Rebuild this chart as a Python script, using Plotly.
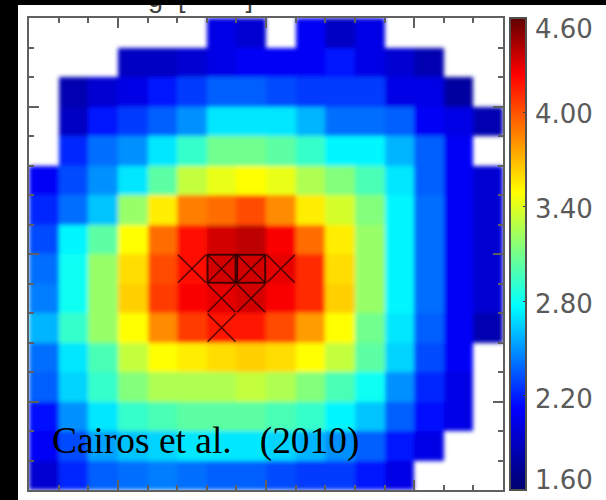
import plotly.graph_objects as go

N = None
row_00 = [N, N, N, N, N, N, 2.03, 1.96, N, 2.09, 1.90, 2.03, N, N, N, N]
row_01 = [N, N, N, 1.90, 1.90, 1.96, 2.03, 2.09, 2.09, 2.09, 2.18, 2.03, 1.96, 1.84, N, N]
row_02 = [N, 1.84, 1.96, 2.03, 2.18, 2.27, 2.36, 2.36, 2.31, 2.27, 2.27, 2.27, 2.03, 2.03, 1.78, N]
row_03 = [N, 1.90, 2.18, 2.27, 2.36, 2.49, 2.71, 2.71, 2.71, 2.58, 2.40, 2.40, 2.36, 2.09, 2.03, 1.84]
row_04 = [N, 2.22, 2.40, 2.49, 2.71, 2.92, 3.09, 3.09, 3.03, 2.92, 2.75, 2.75, 2.58, 2.36, 2.09, N]
row_05 = [2.09, 2.31, 2.49, 2.71, 3.03, 3.32, 3.43, 3.49, 3.43, 3.26, 3.14, 2.98, 2.71, 2.36, 2.09, 1.96]
row_06 = [2.22, 2.40, 2.62, 3.20, 3.54, 3.87, 3.92, 4.02, 3.83, 3.54, 3.37, 3.14, 2.75, 2.40, 2.09, 1.96]
row_07 = [2.31, 2.75, 3.03, 3.49, 3.92, 4.21, 4.34, 4.39, 4.25, 3.92, 3.54, 3.20, 2.75, 2.40, 2.09, 1.96]
row_08 = [2.40, 2.80, 3.20, 3.59, 4.02, 4.21, 4.34, 4.34, 4.30, 4.12, 3.59, 3.20, 2.75, 2.40, 2.09, 1.96]
row_09 = [2.44, 2.80, 3.20, 3.63, 4.07, 4.25, 4.30, 4.34, 4.25, 4.12, 3.63, 3.20, 2.75, 2.40, 2.09, 1.96]
row_10 = [2.58, 2.92, 3.20, 3.49, 3.83, 4.07, 4.17, 4.17, 4.02, 3.78, 3.49, 3.09, 2.71, 2.36, 2.09, 1.84]
row_11 = [2.40, 2.71, 2.98, 3.32, 3.49, 3.54, 3.59, 3.63, 3.59, 3.49, 3.32, 3.03, 2.66, 2.31, 2.09, N]
row_12 = [2.36, 2.66, 2.92, 3.14, 3.26, 3.26, 3.26, 3.32, 3.26, 3.14, 2.98, 2.80, 2.49, 2.22, 2.03, N]
row_13 = [2.14, 2.49, 2.71, 2.92, 2.98, 3.03, 3.03, 3.03, 2.98, 2.92, 2.75, 2.62, 2.36, 2.14, 2.03, N]
row_14 = [2.09, 2.31, 2.53, 2.62, 2.66, 2.71, 2.71, 2.71, 2.66, 2.58, 2.49, 2.36, 2.18, 2.03, N, N]
row_15 = [1.96, 2.22, 2.36, 2.40, 2.44, 2.40, 2.36, 2.36, 2.31, 2.27, 2.27, 2.18, 2.03, N, N, N]
rows = [row_00, row_01, row_02, row_03, row_04, row_05, row_06, row_07,
        row_08, row_09, row_10, row_11, row_12, row_13, row_14, row_15]

cell_centres = [i + 0.5 for i in range(16)]
cross_x = [5.5, 6.5, 7.5, 8.5, 6.5, 7.5, 6.5]
cross_y = [8.5, 8.5, 8.5, 8.5, 9.5, 9.5, 10.5]
square_x = [6.5, 7.5]
square_y = [8.5, 8.5]
major_ticks = [3, 8, 13]
cbar_ticks = [1.6, 2.2, 2.8, 3.4, 4.0, 4.6]
cbar_labels = ["1.60", "2.20", "2.80", "3.40", "4.00", "4.60"]
cbar_label_shift = [10, -3, -3, -2, -2, -11]
y_fragment_labels = ["5", "0", "5"]

scale = [[0, "#00006e"], [0.173, "#0000ff"], [0.39, "#00ffff"], [0.63, "#ffff00"],
         [0.88, "#ff0000"], [1, "#600000"]]
AXC = "#606060"
MARK = "#200000"

fig = go.Figure()
fig.add_trace(go.Heatmap(
    x=cell_centres, y=cell_centres, z=rows, zmin=1.6, zmax=4.6, colorscale=scale,
    hoverongaps=False,
    colorbar=dict(x=1.0148, xanchor="left", xpad=0, ypad=0, y=0.5, len=1, lenmode="fraction",
                  thickness=16, thicknessmode="pixels", outlinecolor="#505050", outlinewidth=2,
                  tickmode="array", tickvals=cbar_ticks, ticks="inside", ticklen=4,
                  tickcolor="#404040", showticklabels=False),
))
fig.add_trace(go.Scatter(x=cross_x, y=cross_y, mode="markers", showlegend=False,
                         marker=dict(symbol="x-thin-open", size=28, opacity=0.75, color=MARK,
                                     line=dict(color=MARK, width=1.6))))
fig.add_trace(go.Scatter(x=square_x, y=square_y, mode="markers", showlegend=False,
                         marker=dict(symbol="square-open", size=28, opacity=0.8, color=MARK,
                                     line=dict(color=MARK, width=2))))

axis = dict(showgrid=False, zeroline=False, showline=True, linecolor=AXC, linewidth=2,
            mirror="ticks", ticks="inside", ticklen=10, tickwidth=1.5, tickcolor=AXC,
            tickmode="array", tickvals=major_ticks, showticklabels=False,
            minor=dict(dtick=1, ticks="inside", ticklen=5, tickwidth=1.5, tickcolor=AXC, showgrid=False))
fig.update_xaxes(range=[0, 16], **axis)
fig.update_yaxes(range=[16, 0], **axis)

ann = [dict(text="Cairos et al.\u00a0\u00a0\u00a0(2010)", xref="x", yref="y", x=0.72, y=14.33,
            xanchor="left", yanchor="middle", showarrow=False,
            font=dict(family="Liberation Serif", size=37.4, color="#000000"))]
for v, t, s in zip(cbar_ticks, cbar_labels, cbar_label_shift):
    ann.append(dict(text=t, xref="paper", yref="paper", x=1.0148, y=(v - 1.6) / 3, xshift=23, yshift=s,
                    xanchor="left", yanchor="middle", showarrow=False,
                    font=dict(family="DejaVu Sans", size=26, color="#5a5a5a")))
for m, t in zip(major_ticks, y_fragment_labels):
    ann.append(dict(text=t, xref="paper", yref="y", x=0, y=m, xshift=-9, xanchor="right",
                    yanchor="middle", showarrow=False,
                    font=dict(family="DejaVu Sans", size=25, color="#505050")))
ann.append(dict(text="g\u00a0\u00a0[\u00a0\u00a0\u00a0\u00a0\u00a0\u00a0\u00a0\u00a0]", xref="paper", yref="paper",
                x=0.247, y=1, yshift=3, xanchor="left", yanchor="bottom", showarrow=False,
                font=dict(family="Liberation Sans", size=27, color="#404040")))

cbar_left_ticks = [dict(type="line", xref="paper", yref="paper", x0=1.0148, x1=1.0148 + 4 / 474,
                        y0=(v - 1.6) / 3, y1=(v - 1.6) / 3, line=dict(color="#404040", width=1.5))
                   for v in cbar_ticks[1:-1]]

fig.update_layout(width=588, height=495, margin=dict(l=11, r=103, t=13, b=10, autoexpand=False),
                  paper_bgcolor="#ffffff", plot_bgcolor="#ffffff", showlegend=False,
                  annotations=ann, shapes=cbar_left_ticks)

post = """
document.body.style.margin='0';
document.documentElement.style.background='#000';
document.body.style.background='#000';
var g=document.getElementsByClassName('plotly-graph-div')[0];
g.style.position='absolute';g.style.left='18px';g.style.top='5px';
function soften(){
  var svg=g.querySelector('svg.main-svg');
  if(!svg) return;
  var NS='http://www.w3.org/2000/svg';
  if(!document.getElementById('cellblur')){
    var f=document.createElementNS(NS,'filter');
    f.setAttribute('id','cellblur');
    f.setAttribute('x','-5%');f.setAttribute('y','-5%');f.setAttribute('width','110%');f.setAttribute('height','110%');
    var b=document.createElementNS(NS,'feGaussianBlur');
    b.setAttribute('stdDeviation','2.2');
    f.appendChild(b);
    var d=document.createElementNS(NS,'defs');d.appendChild(f);svg.appendChild(d);
  }
  g.querySelectorAll('image').forEach(function(i){i.setAttribute('filter','url(#cellblur)');});
}
soften();
setTimeout(soften,0);setTimeout(soften,100);setTimeout(soften,500);
if(g.on) g.on('plotly_afterplot',soften);
"""
fig.write_html("out.html", post_script=post)
